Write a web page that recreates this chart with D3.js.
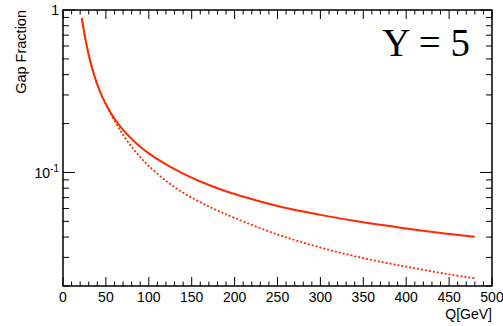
<!DOCTYPE html>
<html>
<head>
<meta charset="utf-8">
<script src="https://cdn.jsdelivr.net/npm/d3@7"></script>
<style>
  body { margin: 0; background: #fff; }
</style>
</head>
<body>
<div id="chart"></div>
<script>
// values
let qVals = [22, 25, 30, 35, 40, 45, 50, 60, 70, 80, 90, 100, 120, 140, 160, 180, 200, 250, 300, 350, 400, 450, 480];
let solidVals = [0.89, 0.710, 0.528, 0.419, 0.348, 0.298, 0.263, 0.214, 0.183, 0.161, 0.144, 0.131, 0.112, 0.0983, 0.088, 0.080, 0.0736, 0.0621, 0.0548, 0.0493, 0.0452, 0.0418, 0.0402];
let dottedVals = [0.89, 0.710, 0.528, 0.419, 0.348, 0.298, 0.263, 0.2086, 0.1707, 0.1439, 0.1243, 0.1096, 0.0888, 0.0750, 0.0656, 0.0583, 0.0525, 0.0415, 0.0345, 0.0297, 0.0263, 0.0236, 0.0223];
let xTicks = [0, 50, 100, 150, 200, 250, 300, 350, 400, 450, 500];

let width = 503;
let height = 326;
let margin = {top: 10, right: 11, bottom: 40, left: 63};
let sans = "'Liberation Sans', Arial, sans-serif";

let svg = d3.select("#chart").append("svg")
  .attr("width", width)
  .attr("height", height)
  .style("font-family", sans);

let x = d3.scaleLinear().domain([0, 500]).range([margin.left, width - margin.right]);
let y = d3.scaleLog().domain([0.02, 1]).range([height - margin.bottom, margin.top]);

let x0 = x.range()[0], x1 = x.range()[1];
let y0 = y.range()[0], y1 = y.range()[1];

let color = "#ff2a00";

let line = d3.line()
  .x((d, i) => x(qVals[i]))
  .y(d => y(d))
  .curve(d3.curveCatmullRom.alpha(0.5));

svg.append("path")
  .attr("d", line(dottedVals))
  .attr("fill", "none")
  .attr("stroke", color)
  .attr("stroke-width", 1.8)
  .attr("stroke-dasharray", "2,2");

svg.append("path")
  .attr("d", line(solidVals))
  .attr("fill", "none")
  .attr("stroke", color)
  .attr("stroke-width", 2);

// ticks, ROOT style on all four sides
let tk = svg.append("g").attr("stroke", "#000").attr("stroke-width", 1);

d3.range(0, 501, 10).forEach(v => {
  let len = v % 50 === 0 ? 9 : 4.5;
  tk.append("line").attr("x1", x(v)).attr("x2", x(v)).attr("y1", y0).attr("y2", y0 - len);
  tk.append("line").attr("x1", x(v)).attr("x2", x(v)).attr("y1", y1).attr("y2", y1 + len);
});

let yMinor = [0.02, 0.03, 0.04, 0.05, 0.06, 0.07, 0.08, 0.09, 0.2, 0.3, 0.4, 0.5, 0.6, 0.7, 0.8, 0.9];
yMinor.forEach(v => {
  tk.append("line").attr("x1", x0).attr("x2", x0 + 6).attr("y1", y(v)).attr("y2", y(v));
  tk.append("line").attr("x1", x1).attr("x2", x1 - 6).attr("y1", y(v)).attr("y2", y(v));
});
[0.1, 1].forEach(v => {
  tk.append("line").attr("x1", x0).attr("x2", x0 + 12).attr("y1", y(v)).attr("y2", y(v));
  tk.append("line").attr("x1", x1).attr("x2", x1 - 12).attr("y1", y(v)).attr("y2", y(v));
});

// frame
svg.append("rect")
  .attr("x", x0).attr("y", y1)
  .attr("width", x1 - x0).attr("height", y0 - y1)
  .attr("fill", "none")
  .attr("stroke", "#000")
  .attr("stroke-width", 1.5);

// x tick labels
svg.append("g").selectAll("text")
  .data(xTicks)
  .enter().append("text")
  .attr("x", d => x(d))
  .attr("y", y0 + 16)
  .attr("text-anchor", "middle")
  .attr("font-size", 14)
  .text(d => d);

// y tick labels
svg.append("text")
  .attr("x", x0 - 4).attr("y", y(1) + 5)
  .attr("text-anchor", "end")
  .attr("font-size", 14)
  .text("1");

let t01 = svg.append("text")
  .attr("x", x0 - 4).attr("y", y(0.1) + 6)
  .attr("text-anchor", "end")
  .attr("font-size", 14);
t01.append("tspan").text("10");
t01.append("tspan").attr("dy", -6).attr("font-size", 10).text("-1");

// axis titles
svg.append("text")
  .attr("x", x1).attr("y", height - 7)
  .attr("text-anchor", "end")
  .attr("font-size", 14)
  .text("Q[GeV]");

svg.append("text")
  .attr("transform", `translate(26, ${y1}) rotate(-90)`)
  .attr("text-anchor", "end")
  .attr("font-size", 14.5)
  .text("Gap Fraction");

svg.append("text")
  .attr("x", 470).attr("y", 56)
  .attr("text-anchor", "end")
  .style("font-family", "'Liberation Serif', 'Times New Roman', serif")
  .attr("font-size", 39)
  .text("Y = 5");
</script>
</body>
</html>
